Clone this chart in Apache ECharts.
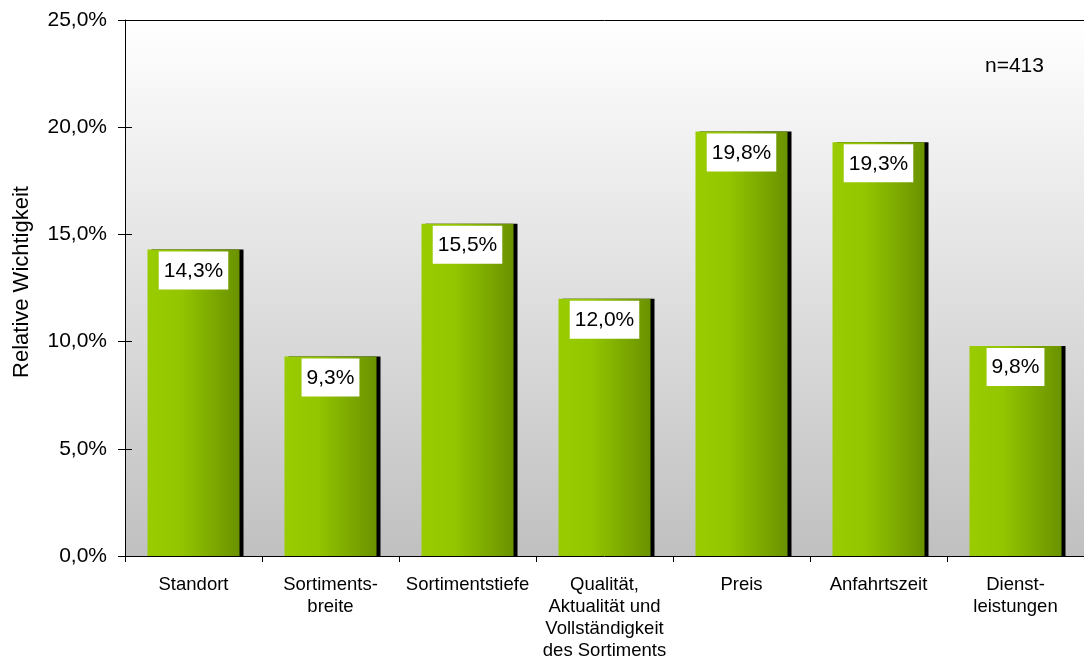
<!DOCTYPE html>
<html>
<head>
<meta charset="utf-8">
<script src="https://cdn.jsdelivr.net/npm/echarts@6/dist/echarts.min.js"></script>
<style>
  html, body { margin: 0; padding: 0; background: #ffffff; }
  #chart { width: 1084px; height: 659px; }
</style>
</head>
<body>
<div id="chart"></div>
<script>
// Relative importance of store attributes (percent)
const categories = [
  'Standort',
  'Sortiments-\nbreite',
  'Sortimentstiefe',
  'Qualität,\nAktualität und\nVollständigkeit\ndes Sortiments',
  'Preis',
  'Anfahrtszeit',
  'Dienst-\nleistungen'
];
const values = [14.3, 9.3, 15.5, 12.0, 19.8, 19.3, 9.8];
const sampleNote = 'n=413';
const axisTitle = 'Relative Wichtigkeit';
const yMax = 25;

const fontFamily = '"Liberation Sans", Arial, sans-serif';
const pct = v => v.toFixed(1).replace('.', ',') + '%';

const chart = echarts.init(document.getElementById('chart'), null, { renderer: 'canvas' });

chart.setOption({
  animation: false,
  backgroundColor: '#ffffff',
  textStyle: { fontFamily: fontFamily, color: '#000' },
  grid: {
    left: 125, right: 0, top: 20, bottom: 103,
    outerBoundsMode: 'none',
    containLabel: false,
    show: true,
    borderWidth: 0,
    backgroundColor: new echarts.graphic.LinearGradient(0, 0, 0, 1, [
      { offset: 0, color: '#ffffff' },
      { offset: 1, color: '#c0c0c0' }
    ])
  },
  graphic: [{
    type: 'text',
    left: 985, top: 56,
    style: { text: sampleNote, font: '21px ' + fontFamily, fill: '#000' }
  }],
  xAxis: {
    type: 'category',
    data: categories,
    axisLine: { lineStyle: { color: '#000', width: 1 } },
    axisTick: { show: true, length: 6, lineStyle: { color: '#000' } },
    axisLabel: {
      interval: 0, margin: 18, color: '#000',
      fontSize: 18.5, lineHeight: 22, fontFamily: fontFamily, align: 'center'
    },
    splitLine: { show: false }
  },
  yAxis: [{
    type: 'value',
    min: 0, max: yMax, interval: 5,
    name: axisTitle,
    nameLocation: 'middle',
    nameGap: 92,
    nameRotate: 90,
    nameTextStyle: { fontSize: 22, color: '#000', fontFamily: fontFamily, padding: [0, 0, 0, 12] },
    axisLine: { show: true, lineStyle: { color: '#000', width: 1 } },
    axisTick: { show: true, length: 7, lineStyle: { color: '#000' } },
    axisLabel: {
      margin: 18, color: '#000', fontSize: 21, fontFamily: fontFamily,
      formatter: v => pct(v)
    },
    splitLine: { show: false }
  }, {
    // inner half of the crossing tick marks on the value axis
    type: 'value',
    position: 'left',
    min: 0, max: yMax, interval: 5,
    axisLine: { show: false },
    axisTick: { show: true, inside: true, length: 7, lineStyle: { color: '#000' } },
    axisLabel: { show: false },
    splitLine: { show: false }
  }],
  series: [{
    type: 'bar',
    data: values,
    barWidth: 92,
    itemStyle: {
      color: new echarts.graphic.LinearGradient(0, 0, 1, 0, [
        { offset: 0, color: '#99cc00' },
        { offset: 0.35, color: '#94c600' },
        { offset: 1, color: '#6a9200' }
      ]),
      shadowColor: '#000',
      shadowBlur: 0,
      shadowOffsetX: 4,
      shadowOffsetY: 0
    },
    label: {
      show: true,
      position: 'insideTop',
      distance: 2,
      formatter: p => pct(p.value),
      fontSize: 21,
      lineHeight: 21,
      fontFamily: fontFamily,
      color: '#000',
      backgroundColor: '#ffffff',
      padding: [9, 5, 8, 5]
    },
    // frame line along the top of the plot area
    markLine: {
      silent: true,
      symbol: 'none',
      label: { show: false },
      lineStyle: { color: '#000', width: 1, type: 'solid' },
      data: [{ yAxis: yMax }]
    }
  }]
});
</script>
</body>
</html>
